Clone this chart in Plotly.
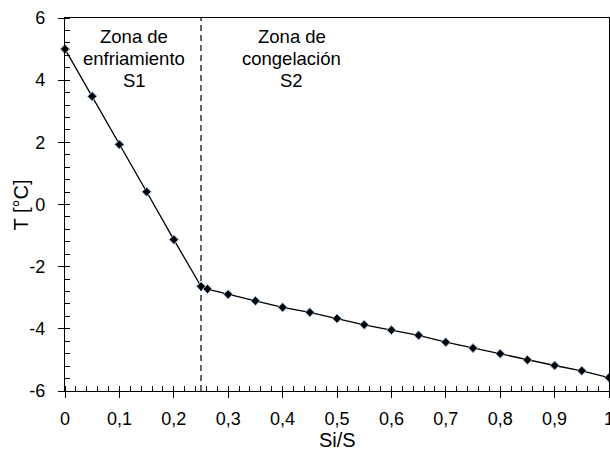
import plotly.graph_objects as go

x_vals = [0, 0.05, 0.1, 0.15, 0.2, 0.25, 0.262, 0.3, 0.35, 0.4, 0.45, 0.5, 0.55, 0.6,
          0.65, 0.7, 0.75, 0.8, 0.85, 0.9, 0.95, 1.0]
t_vals = [5.0, 3.48, 1.93, 0.41, -1.13, -2.63, -2.72, -2.89, -3.10, -3.31, -3.47, -3.67,
          -3.87, -4.04, -4.21, -4.43, -4.62, -4.80, -5.00, -5.18, -5.35, -5.57]
boundary_x = 0.25
zone1_lines = ["Zona de", "enfriamiento", "S1"]
zone2_lines = ["Zona de", "congelación", "S2"]
zone_label_x = [0.127, 0.417]
zone_line_y = [5.42, 4.71, 4.0]
x_tickvals = [0, 0.1, 0.2, 0.3, 0.4, 0.5, 0.6, 0.7, 0.8, 0.9, 1.0]
x_ticktext = ["0", "0,1", "0,2", "0,3", "0,4", "0,5", "0,6", "0,7", "0,8", "0,9", "1"]
y_tickvals = [-6, -4, -2, 0, 2, 4, 6]
y_ticktext = ["-6", "-4", "-2", "0", "2", "4", "6"]

FONT = "Liberation Sans, Arial, sans-serif"

fig = go.Figure()
fig.add_trace(go.Scatter(
    x=x_vals, y=t_vals, mode="lines+markers",
    line=dict(color="black", width=1.3),
    marker=dict(symbol="diamond", size=7, color="black",
                line=dict(color="#8fb3d9", width=1)),
    cliponaxis=False, showlegend=False,
))

fig.add_shape(type="line", x0=boundary_x, x1=boundary_x, y0=-6, y1=6,
              xref="x", yref="y", line=dict(color="black", width=1.2, dash="6px,4px"))

for lines, xx in zip([zone1_lines, zone2_lines], zone_label_x):
    for txt, yy in zip(lines, zone_line_y):
        fig.add_annotation(x=xx, y=yy, xref="x", yref="y", text=txt, showarrow=False,
                           yanchor="middle", xanchor="center",
                           font=dict(family=FONT, size=18.5, color="black"))

fig.add_annotation(x=0.5, y=-0.131, xref="paper", yref="paper", text="Si/S", showarrow=False,
                   yanchor="middle", xanchor="center", font=dict(family=FONT, size=20, color="black"))
fig.add_annotation(x=-0.081, y=0.5, xref="paper", yref="paper", text="T [°C]", showarrow=False,
                   textangle=-90, xanchor="center", yanchor="middle",
                   font=dict(family=FONT, size=20, color="black"))

axis_common = dict(
    showline=True, linecolor="black", linewidth=1.3, mirror=True,
    ticks="outside", ticklen=6, tickwidth=1.2, tickcolor="black",
    showgrid=False, zeroline=False, automargin=False, ticklabeloverflow="allow",
    tickfont=dict(family=FONT, size=18, color="black"),
)

fig.update_xaxes(range=[0, 1], tickvals=x_tickvals, ticktext=x_ticktext, ticklabelstandoff=5,
                 minor=dict(dtick=0.02, tick0=0, ticks="inside", ticklen=5, tickcolor="black", tickwidth=1),
                 **axis_common)
fig.update_yaxes(range=[-6, 6], tickvals=y_tickvals, ticktext=y_ticktext, ticklabelstandoff=9,
                 minor=dict(dtick=0.4, tick0=0, ticks="inside", ticklen=5, tickcolor="black", tickwidth=1),
                 **axis_common)

fig.update_layout(
    width=610, height=450,
    margin=dict(l=65, r=1, t=18, b=59),
    paper_bgcolor="white", plot_bgcolor="white",
    font=dict(family=FONT, color="black"),
)

# remove the page's default body margin so the figure fills the 610x450 window
fig.write_html("out.html", config={"displayModeBar": False},
               post_script="document.body.style.margin='0';document.body.style.overflow='hidden';")
